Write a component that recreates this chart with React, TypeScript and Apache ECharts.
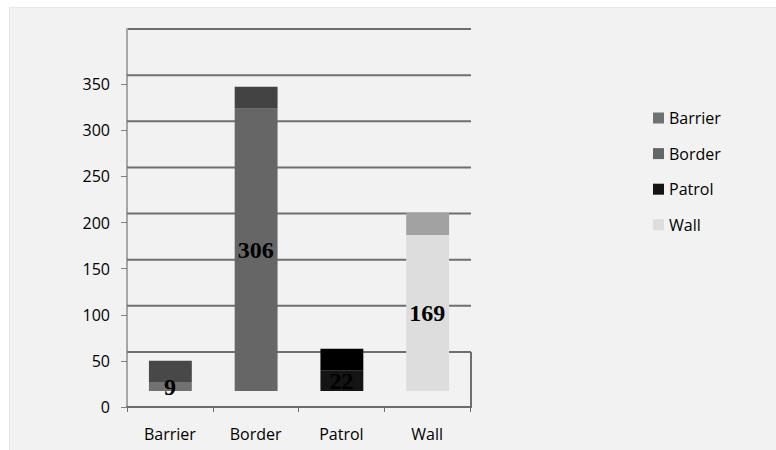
import React, { useEffect, useRef } from "react";
import * as echarts from "echarts";

// Counts per term
const categories: string[] = ["Barrier", "Border", "Patrol", "Wall"];
const counts: number[] = [9, 306, 22, 169];

// Value-axis ticks/labels and the levels of the back-wall grid lines
const yTickValues: number[] = [0, 50, 100, 150, 200, 250, 300, 350];
const wallLevels: number[] = [50, 100, 150, 200, 250, 300, 350, 400];

// Front and top-face shades of each column
const frontColors = ["#717171", "#666666", "#141414", "#dddddd"];
const topColors = ["#484848", "#434343", "#000000", "#a2a2a2"];

const FONT = '"Open Sans", "Liberation Sans", sans-serif';
const LIFT = 16; // columns stand on the floor, raised above the axis line
const CAP = 22; // depth of the visible top face
const BACK = 9; // back wall offset of the grid lines

export default function App() {
  const ref = useRef<HTMLDivElement>(null);

  useEffect(() => {
    if (!ref.current) return;
    const chart = echarts.init(ref.current, undefined, { renderer: "svg" });

    const renderWall = (params: any, api: any) => {
      const v = api.value(1);
      const cs = params.coordSys;
      const y = api.coord([0, v])[1] - BACK;
      const left = cs.x;
      const right = cs.x + cs.width + 1;
      const children: any[] = [
        {
          type: "line",
          shape: { x1: left, y1: y, x2: right, y2: y },
          style: { stroke: "#6f6f6f", lineWidth: 2 },
        },
      ];
      if (v === wallLevels[0]) {
        const yZero = api.coord([0, 0])[1] + 1;
        children.push({
          type: "line",
          shape: { x1: right, y1: y, x2: right, y2: yZero },
          style: { stroke: "#6f6f6f", lineWidth: 2 },
        });
      }
      if (v === wallLevels[wallLevels.length - 1]) {
        children.push({
          type: "line",
          shape: { x1: left, y1: y - 1, x2: left, y2: y + BACK + 1 },
          style: { stroke: "#a6a6a6", lineWidth: 2 },
        });
      }
      return { type: "group", children };
    };

    const makeColumn = (i: number) => (params: any, api: any) => {
      const cat = api.value(0);
      const v = api.value(1);
      const base = api.coord([cat, 0]);
      const top = api.coord([cat, v]);
      const w = api.size([1, 0])[0] * 0.5;
      const x = base[0] - w / 2 + 0.5;
      const yBase = base[1] - LIFT;
      const yTop = top[1] - LIFT;
      return {
        type: "group",
        children: [
          {
            type: "rect",
            shape: { x, y: yTop - CAP, width: w, height: CAP },
            style: { fill: topColors[i] },
          },
          {
            type: "rect",
            shape: { x, y: yTop, width: w, height: yBase - yTop },
            style: { fill: frontColors[i] },
          },
          {
            type: "text",
            x: base[0],
            y: (yTop + yBase) / 2,
            style: {
              text: String(v),
              font: 'bold 24px "Liberation Serif", "Times New Roman", serif',
              fill: "#000",
              align: "center",
              verticalAlign: "middle",
            },
          },
        ],
      };
    };

    const columnSeries = categories.map((name, i) => ({
      type: "custom",
      name,
      z: 3,
      renderItem: makeColumn(i),
      itemStyle: { color: frontColors[i] },
      encode: { x: 0, y: 1 },
      data: [[name, counts[i]]],
    }));

    chart.setOption({
      animation: false,
      backgroundColor: "transparent",
      textStyle: { fontFamily: FONT },
      grid: {
        left: 127,
        top: 38,
        width: 343,
        height: 369,
        containLabel: false,
        outerBoundsMode: "none",
      },
      legend: {
        orient: "vertical",
        left: 653,
        top: 110,
        padding: 0,
        icon: "rect",
        itemWidth: 11,
        itemHeight: 11,
        itemGap: 19.6,
        data: categories,
        textStyle: { fontFamily: FONT, fontSize: 16, color: "#000", lineHeight: 16 },
      },
      xAxis: {
        type: "category",
        data: categories,
        axisLine: { show: true, lineStyle: { color: "#6d6d6d", width: 2 } },
        axisTick: { show: true, length: 5, lineStyle: { color: "#6d6d6d", width: 1 } },
        axisLabel: { fontFamily: FONT, fontSize: 16, color: "#000", margin: 19 },
        splitLine: { show: false },
      },
      yAxis: {
        type: "value",
        min: 0,
        max: 400,
        interval: 50,
        axisLine: { show: true, lineStyle: { color: "#a6a6a6", width: 2 } },
        axisTick: {
          show: true,
          length: 6,
          lineStyle: { color: "#808080", width: 1 },
          customValues: yTickValues,
        },
        axisLabel: {
          fontFamily: FONT,
          fontSize: 16,
          color: "#000",
          margin: 17,
          customValues: yTickValues,
        },
        splitLine: { show: false },
      },
      series: [
        {
          type: "custom",
          name: "wall",
          z: 1,
          silent: true,
          renderItem: renderWall,
          encode: { x: 0, y: 1 },
          data: wallLevels.map((v) => [0, v]),
        },
        ...columnSeries,
      ],
    });

    return () => chart.dispose();
  }, []);

  return (
    <div style={{ position: "absolute", left: 0, top: 0, width: 776, height: 450, background: "#fff" }}>
      <div
        style={{
          position: "absolute",
          left: 9,
          top: 7,
          width: 766,
          height: 443,
          background: "#f2f2f2",
          borderLeft: "1px solid #e2e2e2",
          borderTop: "1px solid #e8e8e8",
        }}
      />
      <div ref={ref} style={{ position: "absolute", left: 0, top: 0, width: 776, height: 450 }} />
    </div>
  );
}
